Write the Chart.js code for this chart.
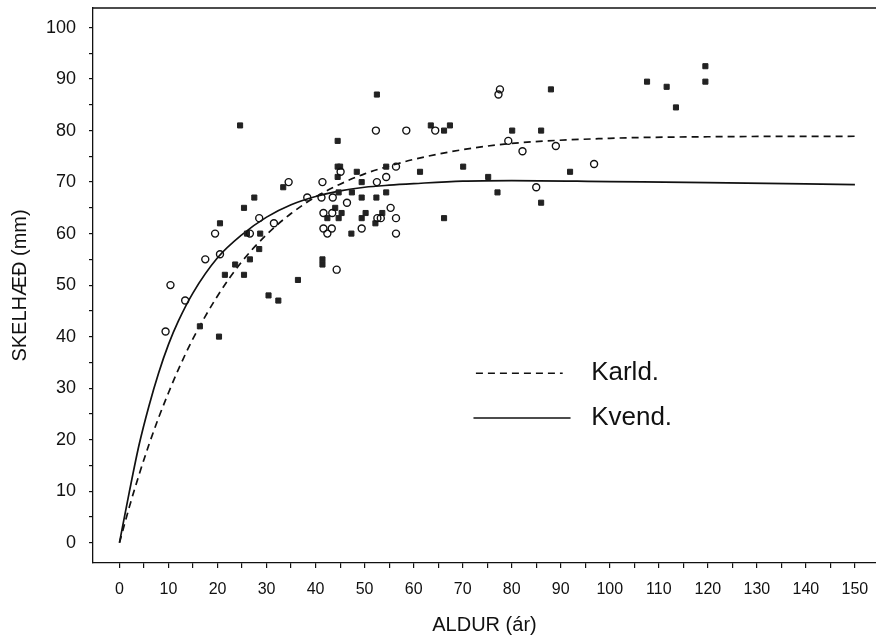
<!DOCTYPE html>
<html>
<head>
<meta charset="utf-8">
<script src="https://cdn.jsdelivr.net/npm/chart.js@4"></script>
<style>
  html, body { margin: 0; padding: 0; background: #fff; }
  #wrap { width: 876px; height: 638px; }
</style>
</head>
<body>
<div id="wrap"><canvas id="myChart" width="876" height="638"></canvas></div>
<script>
// data block
const curveAge   = [0, 2, 4, 6, 8, 10, 12, 15, 20, 25, 30, 35, 40, 45, 50, 55, 60, 70, 80, 100, 120, 150];
const karldCurve = [0, 6.9, 13.2, 19, 24.3, 29.1, 33.6, 39.6, 47.9, 54.6, 59.8, 63.9, 67.1, 69.6, 71.6, 73.1, 74.4, 76.3, 77.5, 78.5, 78.8, 78.9];
const kvendCurve = [0, 9.8, 19, 26.5, 33, 38.5, 43, 48.5, 55.3, 59.8, 63.2, 65.6, 67.2, 68.3, 69, 69.4, 69.7, 70.2, 70.3, 70.1, 69.9, 69.5];

// open circles
const openAge    = [9.4, 10.4, 13.4, 17.5, 19.5, 20.5, 26.6, 28.5, 31.5, 34.5, 38.3, 41.2, 41.4, 41.6, 41.6, 42.4, 43.3, 43.5, 43.4, 44.3, 45.1, 46.4,
                    49.4, 52.3, 52.5, 52.6, 53.3, 54.4, 55.3, 56.4, 56.4, 56.4, 58.5, 64.4, 77.3, 77.6, 79.3, 82.2, 85, 89, 96.8];
const openHeight = [41, 50, 47, 55, 60, 56, 60, 63, 62, 70, 67, 67, 70, 64, 61, 60, 61, 67, 64, 53, 72, 66,
                    61, 80, 70, 63, 63, 71, 65, 73, 63, 60, 80, 80, 87, 88, 78, 76, 69, 77, 73.5];

// filled marks
const filledAge    = [16.4, 20.3, 20.5, 21.5, 23.6, 24.6, 25.4, 25.4, 26, 26.6, 27.5, 28.5, 28.7, 30.4, 32.4, 33.4, 36.4, 41.4, 41.4, 42.4,
                      44, 44.5, 44.5, 44.5, 44.7, 44.7, 45, 45.3, 47.3, 47.4, 48.4, 49.4, 49.4, 49.4, 50.2, 52.2, 52.4, 52.5, 53.6, 54.4,
                      54.4, 61.3, 63.5, 66.2, 67.4, 66.2, 70.1, 75.2, 77.1, 80.1, 86, 86, 88, 91.9, 107.6, 111.6, 113.5, 119.5, 119.5];
const filledHeight = [42, 40, 62, 52, 54, 81, 65, 52, 60, 55, 67, 57, 60, 48, 47, 69, 51, 55, 54, 63,
                      65, 73, 71, 78, 63, 68, 73, 64, 60, 68, 72, 70, 67, 63, 64, 62, 67, 87, 64, 73,
                      68, 72, 81, 80, 81, 63, 73, 71, 68, 80, 80, 66, 88, 72, 89.5, 88.5, 84.5, 92.5, 89.5];

// tick values (labels every 10, minor marks every 5)
const xTicks = [0, 5, 10, 15, 20, 25, 30, 35, 40, 45, 50, 55, 60, 65, 70, 75, 80, 85, 90, 95, 100, 105, 110, 115, 120, 125, 130, 135, 140, 145, 150];
const yTicks = [0, 5, 10, 15, 20, 25, 30, 35, 40, 45, 50, 55, 60, 65, 70, 75, 80, 85, 90, 95, 100];

const toPoints = (xs, ys) => xs.map((x, i) => ({x: x, y: ys[i]}));

const data = {
    datasets: [
        {
            label: 'Karld.',
            data: toPoints(curveAge, karldCurve),
            showLine: true,
            borderColor: '#111',
            borderWidth: 1.7,
            borderDash: [7, 5],
            pointRadius: 0,
            cubicInterpolationMode: 'monotone',
            order: 2
        },
        {
            label: 'Kvend.',
            data: toPoints(curveAge, kvendCurve),
            showLine: true,
            borderColor: '#111',
            borderWidth: 1.7,
            pointRadius: 0,
            cubicInterpolationMode: 'monotone',
            order: 2
        },
        {
            label: 'open',
            data: toPoints(openAge, openHeight),
            pointStyle: 'circle',
            pointRadius: 3.5,
            pointBorderWidth: 1.4,
            pointBorderColor: '#111',
            pointBackgroundColor: 'rgba(255,255,255,0)',
            order: 1
        },
        {
            label: 'filled',
            data: toPoints(filledAge, filledHeight),
            pointStyle: 'rect',
            pointRadius: 3.6,
            pointBorderWidth: 1,
            pointBorderColor: '#222',
            pointBackgroundColor: '#222',
            order: 1
        }
    ]
};

// top frame line + in-plot legend
const frameAndLegend = {
    id: 'frameAndLegend',
    afterDatasetsDraw(chart) {
        const {ctx, chartArea: {top, left, right}, scales: {x, y}} = chart;
        ctx.save();
        ctx.strokeStyle = '#111';
        ctx.lineWidth = 1.3;
        ctx.beginPath();
        ctx.moveTo(left, top);
        ctx.lineTo(right, top);
        ctx.stroke();

        const rows = [
            {ds: chart.data.datasets[0], x0: 72.7, x1: 90.4, y: 32.9},
            {ds: chart.data.datasets[1], x0: 72.2, x1: 92.0, y: 24.2}
        ];
        ctx.font = '26px "Liberation Sans", Arial, sans-serif';
        ctx.fillStyle = '#111';
        ctx.textBaseline = 'middle';
        rows.forEach(r => {
            const py = y.getPixelForValue(r.y);
            ctx.lineWidth = 1.6;
            ctx.setLineDash(r.ds.borderDash || []);
            ctx.beginPath();
            ctx.moveTo(x.getPixelForValue(r.x0), py);
            ctx.lineTo(x.getPixelForValue(r.x1), py);
            ctx.stroke();
            ctx.setLineDash([]);
            ctx.fillText(r.ds.label, x.getPixelForValue(96.2), py);
        });
        ctx.restore();
    }
};

const axisFont = '"Liberation Sans", Arial, sans-serif';

// config block
const config = {
    type: 'scatter',
    data: data,
    options: {
        responsive: false,
        animation: false,
        layout: {autoPadding: false, padding: {top: 8, left: 0, right: 0, bottom: 0}},
        plugins: {
            legend: {display: false},
            tooltip: {enabled: false}
        },
        scales: {
            x: {
                type: 'linear',
                min: -5.4,
                max: 154.3,
                afterBuildTicks: axis => { axis.ticks = xTicks.map(v => ({value: v})); },
                afterFit: axis => {
                    axis.height = 75;
                    axis.paddingLeft = 0; axis.paddingRight = 0;
                },
                border: {color: '#111', width: 1.3},
                grid: {drawOnChartArea: false, drawTicks: true, tickLength: 5, color: '#111', lineWidth: 1.2},
                ticks: {
                    color: '#111',
                    padding: 12,
                    maxRotation: 0,
                    autoSkip: false,
                    font: {family: axisFont, size: 16},
                    callback: v => (v % 10 === 0 ? String(v) : '')
                },
                title: {
                    display: true,
                    text: 'ALDUR (ár)',
                    color: '#111',
                    font: {family: axisFont, size: 20},
                    padding: {top: 0, bottom: 1}
                }
            },
            y: {
                type: 'linear',
                min: -3.95,
                max: 103.8,
                afterBuildTicks: axis => { axis.ticks = yTicks.map(v => ({value: v})); },
                afterFit: axis => {
                    axis.width = 93;
                    axis.paddingTop = 0; axis.paddingBottom = 0;
                },
                border: {color: '#111', width: 1.3},
                grid: {drawOnChartArea: false, drawTicks: true, tickLength: 4, color: '#111', lineWidth: 1.2},
                ticks: {
                    color: '#111',
                    padding: 13,
                    autoSkip: false,
                    font: {family: axisFont, size: 18},
                    callback: v => (v % 10 === 0 ? String(v) : '')
                },
                title: {
                    display: true,
                    text: 'SKELHÆÐ (mm)',
                    color: '#111',
                    font: {family: axisFont, size: 20},
                    padding: {top: 8, bottom: 0}
                }
            }
        }
    },
    plugins: [frameAndLegend]
};

// init render block
const myChart = new Chart(
    document.getElementById('myChart'),
    config
);
</script>
</body>
</html>
